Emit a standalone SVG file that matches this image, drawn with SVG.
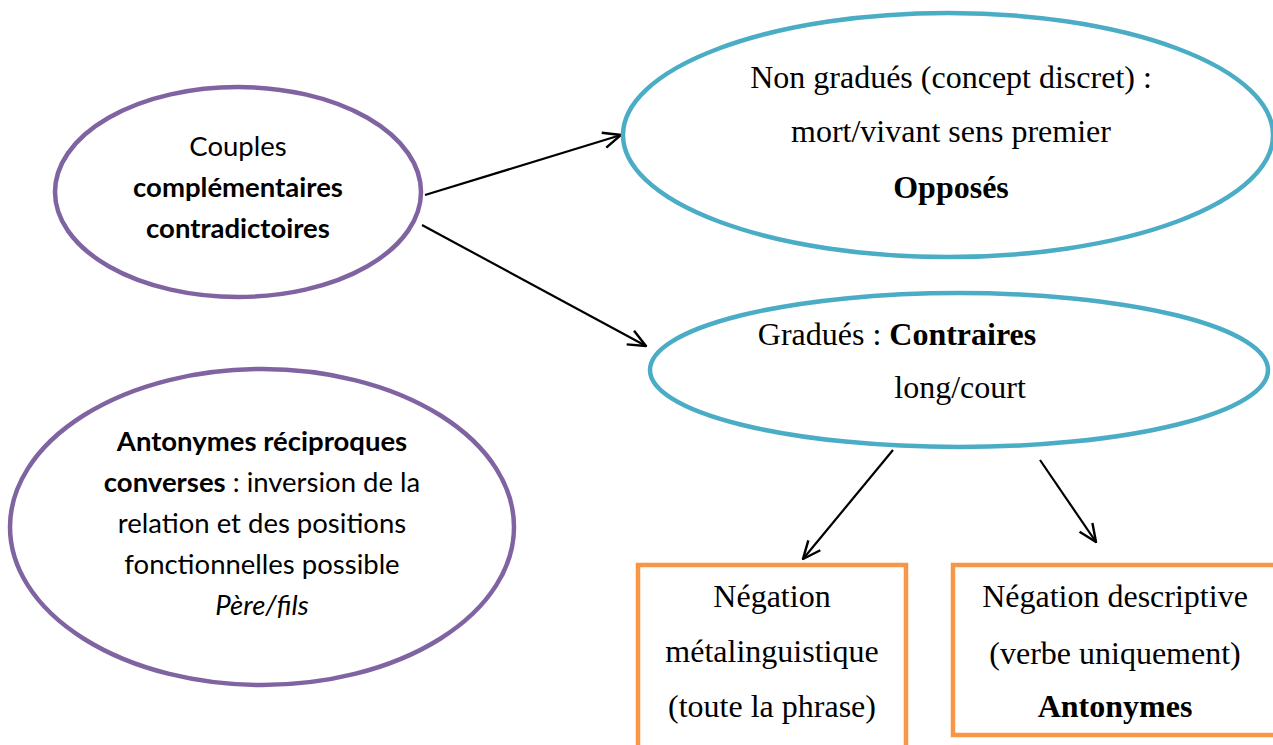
<svg xmlns="http://www.w3.org/2000/svg" width="1273" height="745" viewBox="0 0 1273 745">
<style>
.pur{fill:#fff;stroke:#8064A2;stroke-width:4.5}
.blu{fill:#fff;stroke:#4BACC6;stroke-width:4.5}
.org{fill:#fff;stroke:#F79646;stroke-width:4.5}
.sans{font-family:Lato,"Open Sans","Liberation Sans",sans-serif;font-size:27.5px;fill:#000;text-anchor:middle}
.serif{font-family:"Liberation Serif","Times New Roman",serif;font-size:32px;fill:#000;text-anchor:middle}
.b{font-weight:bold}
.i{font-style:italic}
.con{stroke:#000;stroke-width:2.2;fill:none;marker-end:url(#arr)}
</style>
<defs>
<marker id="arr" markerWidth="20" markerHeight="20" refX="17" refY="8" orient="auto" markerUnits="userSpaceOnUse" viewBox="0 0 18 16">
<path d="M1,1 L17,8 L1,15" fill="none" stroke="#000" stroke-width="2.2"/>
</marker>
</defs>
<rect width="1273" height="745" fill="#fff"/>
<g id="connectors">
<line class="con" x1="425" y1="195" x2="621" y2="135"/>
<line class="con" x1="422" y1="225" x2="646" y2="346"/>
<line class="con" x1="893" y1="450" x2="803" y2="559"/>
<line class="con" x1="1040" y1="460" x2="1096" y2="542"/>
</g>
<g id="couples">
<ellipse class="pur" cx="238" cy="192" rx="183" ry="105"/>
<text class="sans" x="238" y="156">Couples</text>
<text class="sans b" x="238" y="197">complémentaires</text>
<text class="sans b" x="238" y="238">contradictoires</text>
</g>
<g id="reciproques">
<ellipse class="pur" cx="262" cy="527" rx="252" ry="158"/>
<text class="sans" x="262" y="451"><tspan class="b">Antonymes réciproques</tspan></text>
<text class="sans" x="262" y="492"><tspan class="b">converses</tspan> : inversion de la</text>
<text class="sans" x="262" y="533">relation et des positions</text>
<text class="sans" x="262" y="574">fonctionnelles possible</text>
<text class="sans i" x="262" y="615">Père/fils</text>
</g>
<g id="nongradues">
<ellipse class="blu" cx="948" cy="135" rx="325" ry="122"/>
<text class="serif" x="951" y="88">Non gradués (concept discret) :</text>
<text class="serif" x="951" y="142">mort/vivant sens premier</text>
<text class="serif b" x="951" y="198">Opposés</text>
</g>
<g id="gradues">
<ellipse class="blu" cx="959" cy="370" rx="309" ry="77"/>
<text class="serif" x="897" y="345">Gradués : <tspan class="b">Contraires</tspan></text>
<text class="serif" x="960" y="398">long/court</text>
</g>
<g id="metalinguistique">
<rect class="org" x="638" y="565" width="268" height="190"/>
<text class="serif" x="772" y="607">Négation</text>
<text class="serif" x="772" y="662">métalinguistique</text>
<text class="serif" x="772" y="717">(toute la phrase)</text>
</g>
<g id="descriptive">
<rect class="org" x="953" y="565" width="330" height="170"/>
<text class="serif" x="1115" y="607">Négation descriptive</text>
<text class="serif" x="1115" y="664">(verbe uniquement)</text>
<text class="serif b" x="1115" y="717">Antonymes</text>
</g>
</svg>
